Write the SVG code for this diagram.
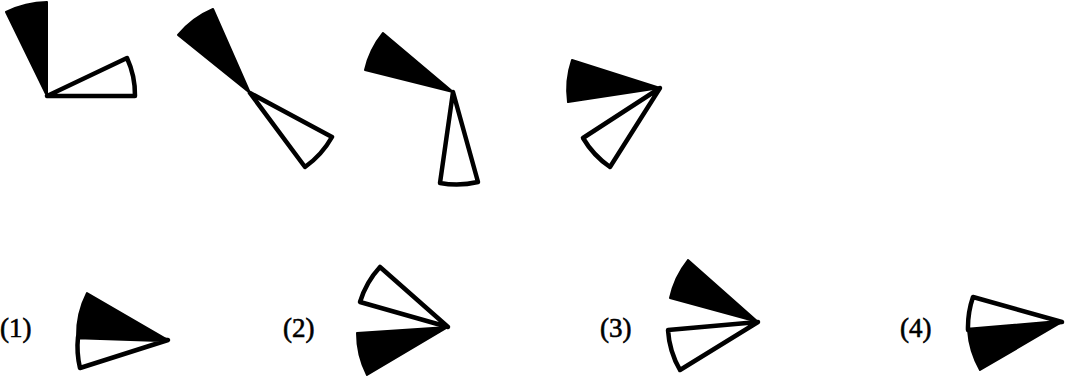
<svg xmlns="http://www.w3.org/2000/svg" width="1066" height="379" viewBox="0 0 1066 379">
<style>
.b{fill:#000;stroke:#000;stroke-width:2;stroke-linejoin:round}
.w{fill:#fff;stroke:#000;stroke-width:4.5;stroke-linejoin:round}
.l{font-family:"Liberation Serif",serif;font-size:27px;fill:#000;stroke:#000;stroke-width:0.6}
</style>
<rect width="1066" height="379" fill="#fff"/>
<g id="fig1">
<path class="b" d="M47,96 L6,12 A94,94 0 0 1 47,2 Z"/>
<path class="w" d="M47,96 L135,96 A88,88 0 0 0 127,58 Z"/>
</g>
<g id="fig2">
<path class="b" d="M250,93 L178,35 A92,92 0 0 1 213,9 Z"/>
<path class="w" d="M250,93 L332,137 A92,92 0 0 1 305,167 Z"/>
</g>
<g id="fig3">
<path class="b" d="M453,92 L383,33 A91,91 0 0 0 365,70 Z"/>
<path class="w" d="M453,92 L478,182 A92,92 0 0 1 440,183 Z"/>
</g>
<g id="fig4">
<path class="b" d="M660,88 L572,60 A92,92 0 0 0 568,102 Z"/>
<path class="w" d="M660,88 L610,167 A92,92 0 0 1 583,138 Z"/>
</g>
<g id="opt1">
<text class="l" x="0" y="337">(1)</text>
<path class="b" d="M168,340 L87,293 A92,92 0 0 0 77,337 Z"/>
<path class="w" d="M168,340 L78,337 A92,92 0 0 0 80,368 Z"/>
</g>
<g id="opt2">
<text class="l" x="283" y="337">(2)</text>
<path class="w" d="M448,327 L380,267 A91,91 0 0 0 360,302 Z"/>
<path class="b" d="M448,327 L367,375 A92,92 0 0 1 357,333 Z"/>
</g>
<g id="opt3">
<text class="l" x="600" y="337">(3)</text>
<path class="b" d="M758,322 L688,260 A92,92 0 0 0 670,298 Z"/>
<path class="w" d="M758,322 L680,370 A91,91 0 0 1 668,330 Z"/>
</g>
<g id="opt4">
<text class="l" x="900" y="337">(4)</text>
<path class="b" d="M1062,322 L968,330 A94,94 0 0 0 980,370 Z"/>
<path class="w" d="M1062,322 L973,297 A94,94 0 0 0 968,330 Z"/>
</g>
</svg>
